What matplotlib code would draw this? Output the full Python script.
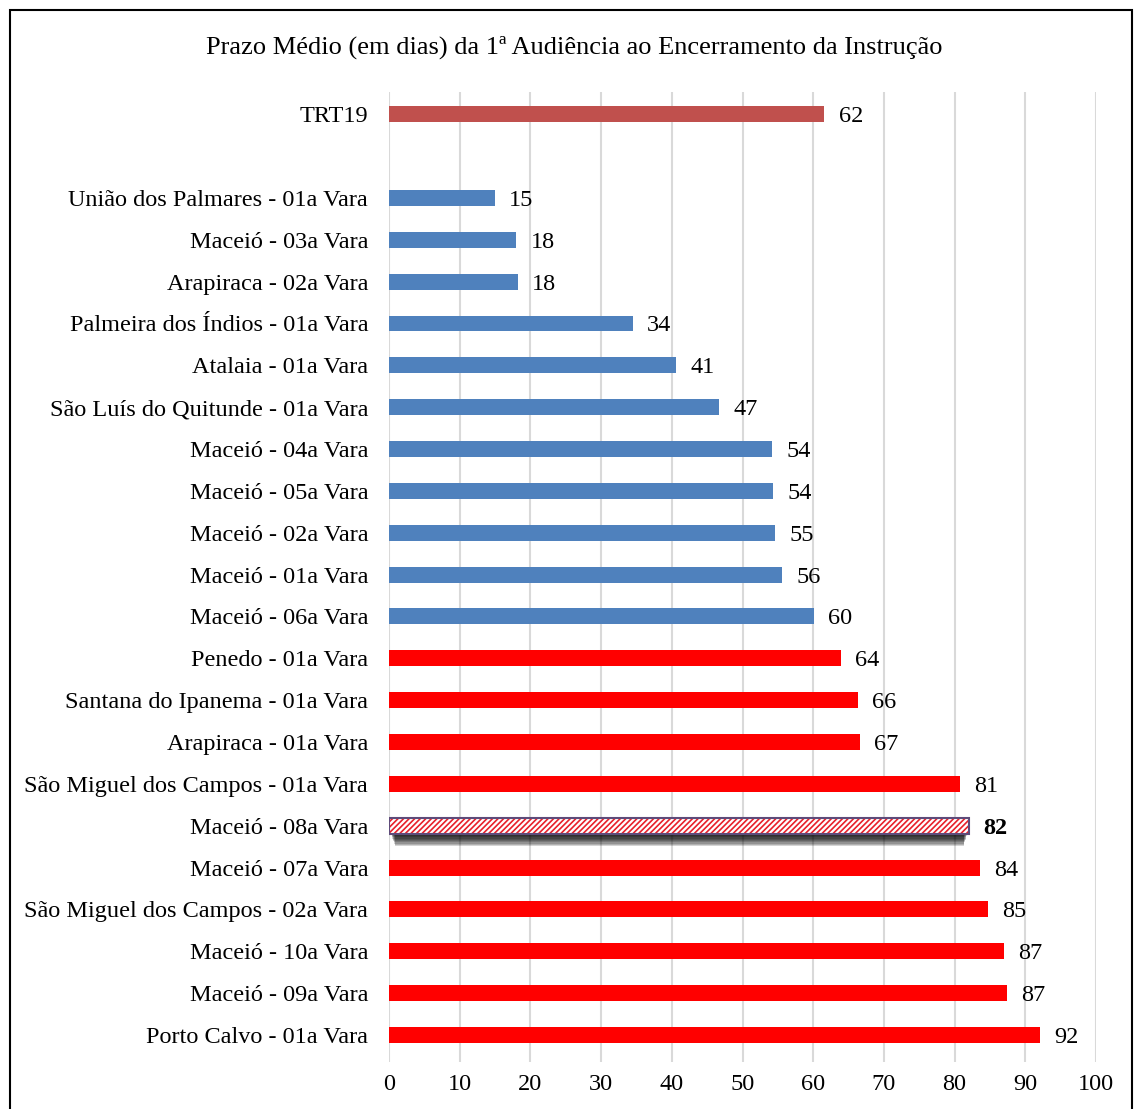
import matplotlib
matplotlib.use("Agg")
import matplotlib.pyplot as plt
from matplotlib.patches import Rectangle

plt.rcParams['font.family'] = ['Liberation Serif', 'DejaVu Serif']
plt.rcParams['hatch.linewidth'] = 1.2

# Data (bottom to top)
categories = [
    "Porto Calvo - 01a Vara", "Maceió - 09a Vara", "Maceió - 10a Vara",
    "São Miguel dos Campos - 02a Vara", "Maceió - 07a Vara", "Maceió - 08a Vara",
    "São Miguel dos Campos - 01a Vara", "Arapiraca - 01a Vara",
    "Santana do Ipanema - 01a Vara", "Penedo - 01a Vara", "Maceió - 06a Vara",
    "Maceió - 01a Vara", "Maceió - 02a Vara", "Maceió - 05a Vara",
    "Maceió - 04a Vara", "São Luís do Quitunde - 01a Vara", "Atalaia - 01a Vara",
    "Palmeira dos Índios - 01a Vara", "Arapiraca - 02a Vara", "Maceió - 03a Vara",
    "União dos Palmares - 01a Vara",
]
values = [92.1, 87.4, 87.0, 84.7, 83.6, 82.0, 80.8, 66.6, 66.3, 63.9, 60.1,
          55.6, 54.6, 54.3, 54.2, 46.7, 40.6, 34.5, 18.2, 18.0, 15.0]
groups = ["above"] * 10 + ["below"] * 11
highlight = "Maceió - 08a Vara"
trt_label = "TRT19"
trt_value = 61.5

colors = {"above": "#FF0000", "below": "#4F81BD"}
trt_color = "#C0504D"

FS = 17.5
W, H = 1134, 1109
fig = plt.figure(figsize=(W / 100, H / 100), dpi=100)
ax = fig.add_axes([389 / W, 1 - 1062 / H, (1096 - 389) / W, (1062 - 92) / H])

bar_h = 0.38
positions = list(range(len(categories)))
trt_pos = len(categories) + 1

for pos, cat, val, grp in zip(positions, categories, values, groups):
    if cat == highlight:
        # soft shadow below the bar
        top = pos
        n = 10
        for k in range(n):
            bottom = pos - bar_h / 2 - 0.03 * (k + 1)
            ax.barh((top + bottom) / 2, val - 0.5 - 0.12 * k, height=top - bottom,
                    left=0.3 + 0.06 * k, color="black", alpha=0.17, zorder=2,
                    linewidth=0)
        ax.barh(pos, val, height=bar_h, color="white", linewidth=0, zorder=3)
        ax.barh(pos, val, height=bar_h, color="none", edgecolor="#E8202A",
                hatch="//////", linewidth=0, zorder=4)
        ax.barh(pos, val, height=bar_h, color="none", edgecolor="#5E4B7A",
                linewidth=1.5, zorder=5)
        ax.text(val + 2.0, pos, f"{round(val)}", va="center_baseline", ha="left",
                fontsize=FS, fontweight="bold", zorder=6)
    else:
        ax.barh(pos, val, height=bar_h, color=colors[grp], zorder=3)
        ax.text(val + 2.0, pos, f"{round(val)}", va="center_baseline", ha="left",
                fontsize=FS, zorder=6)

ax.barh(trt_pos, trt_value, height=bar_h, color=trt_color, zorder=3)
ax.text(trt_value + 2.2, trt_pos, f"{round(trt_value)}", va="center_baseline",
        ha="left", fontsize=FS, zorder=6)

ax.set_yticks(positions + [trt_pos])
ax.set_yticklabels(categories + [trt_label], fontsize=FS, va="center_baseline")
ax.set_xlim(0, 100)
ax.set_xticks(range(0, 101, 10))
ax.tick_params(axis="x", labelsize=FS, length=0, pad=9)
ax.tick_params(axis="y", length=0, pad=15)
ax.set_ylim(-0.645, 22.53)
ax.grid(axis="x", color="#D9D9D9", linewidth=1.5, zorder=0)
ax.set_axisbelow(True)
for s in ax.spines.values():
    s.set_visible(False)

fig.text(574 / W, 1 - 47 / H,
         "Prazo Médio (em dias) da 1ª Audiência ao Encerramento da Instrução",
         ha="center", va="center", fontsize=19)

# outer frame
fig.patches.append(Rectangle((10 / W, -0.05), (1132 - 10) / W, 1 - 10 / H + 0.05,
                             transform=fig.transFigure, fill=False,
                             edgecolor="black", linewidth=1.5))

fig.savefig("out.png", dpi=100)
